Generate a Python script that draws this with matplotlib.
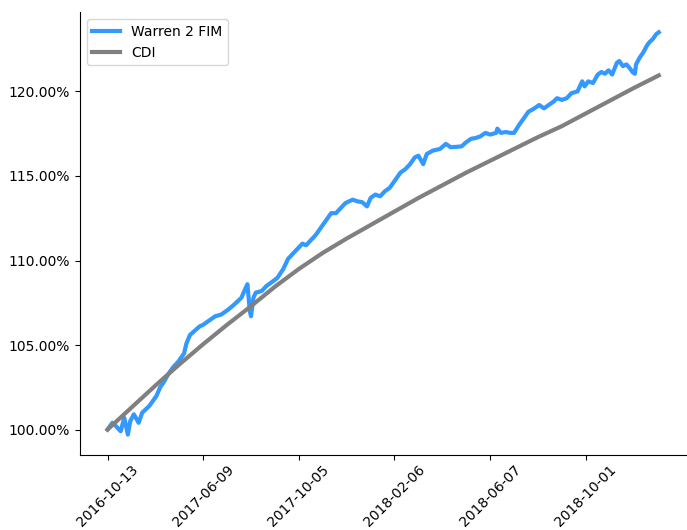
import matplotlib
matplotlib.use("Agg")
from matplotlib import pyplot as plt
from matplotlib.ticker import FuncFormatter

# trading-day index of each reading, and the fund value there (1.0 = 100%)
WARREN_IDX = [0, 4, 7, 11, 14, 17, 19, 22, 26, 29, 32, 35, 39, 41, 44, 47, 51, 55, 59, 64,
              66, 69, 73, 77, 80, 84, 90, 95, 101, 106, 112, 115, 117, 119, 120, 122, 124,
              129, 133, 137, 142, 147, 151, 155, 159, 163, 166, 170, 174, 178, 182, 187,
              191, 195, 199, 205, 209, 213, 217, 220, 224, 228, 232, 236, 240, 245, 249,
              253, 257, 260, 264, 267, 272, 278, 283, 287, 296, 300, 304, 308, 312, 316,
              320, 325, 326, 329, 333, 337, 340, 344, 348, 352, 357, 361, 365, 369, 373,
              376, 380, 384, 388, 393, 397, 399, 402, 406, 410, 413, 416, 419, 422, 426,
              428, 431, 434, 437, 439, 441, 442, 445, 448, 451, 453, 456, 459, 461]
WARREN = [100.0, 100.4, 100.2, 99.9, 100.7, 99.7, 100.5, 100.9, 100.4, 101.0, 101.2, 101.4,
          101.8, 102.0, 102.5, 102.8, 103.3, 103.7, 104.0, 104.5, 105.1, 105.6, 105.85,
          106.1, 106.2, 106.4, 106.7, 106.8, 107.1, 107.4, 107.8, 108.3, 108.6, 107.0,
          106.7, 107.8, 108.1, 108.2, 108.5, 108.7, 108.97, 109.5, 110.1, 110.4, 110.7,
          111.0, 110.9, 111.2, 111.5, 111.9, 112.3, 112.8, 112.8, 113.1, 113.4, 113.6,
          113.5, 113.45, 113.2, 113.7, 113.9, 113.8, 114.1, 114.3, 114.7, 115.2, 115.4,
          115.7, 116.1, 116.2, 115.7, 116.3, 116.5, 116.6, 116.9, 116.7, 116.75, 117.0,
          117.2, 117.25, 117.35, 117.55, 117.45, 117.55, 117.8, 117.55, 117.6, 117.55,
          117.55, 118.0, 118.4, 118.8, 119.0, 119.2, 119.0, 119.2, 119.4, 119.6, 119.5,
          119.6, 119.9, 120.0, 120.6, 120.3, 120.6, 120.5, 121.0, 121.15, 121.05, 121.25,
          121.0, 121.7, 121.8, 121.5, 121.6, 121.35, 121.15, 121.05, 121.6, 122.0, 122.3,
          122.7, 122.9, 123.1, 123.4, 123.5]

CDI_IDX = [0, 20, 40, 60, 80, 100, 120, 140, 160, 180, 200, 220, 240, 260, 280, 300, 320,
           340, 360, 380, 400, 420, 440, 461]
CDI = [100.0, 101.3, 102.6, 103.85, 105.05, 106.2, 107.3, 108.45, 109.5, 110.45, 111.3,
       112.1, 112.9, 113.7, 114.45, 115.2, 115.9, 116.6, 117.3, 117.95, 118.7, 119.45,
       120.2, 120.95]

TICK_IDX = [0, 80, 160, 240, 320, 400]
TICK_DATES = ['2016-10-13', '2017-06-09', '2017-10-05', '2018-02-06', '2018-06-07', '2018-10-01']

fig, ax = plt.subplots(figsize=(6.87, 5.30), dpi=100)
fig.subplots_adjust(left=0.1164, right=0.999, top=0.977, bottom=0.142)

ax.plot(WARREN_IDX, [v / 100 for v in WARREN], color='#3399ff', lw=3, label='Warren 2 FIM')
ax.plot(CDI_IDX, [v / 100 for v in CDI], color='grey', lw=3, label='CDI')

ax.set_xticks(TICK_IDX)
ax.set_xticklabels(TICK_DATES, rotation=45)
ax.tick_params(axis='x', pad=2)
ax.set_yticks([1.0, 1.05, 1.10, 1.15, 1.20])
ax.yaxis.set_major_formatter(FuncFormatter(lambda y, _: f'{y:.2%}'))

ax.spines['top'].set_visible(False)
ax.spines['right'].set_visible(False)
ax.legend(loc='upper left')

fig.savefig('out.png')
